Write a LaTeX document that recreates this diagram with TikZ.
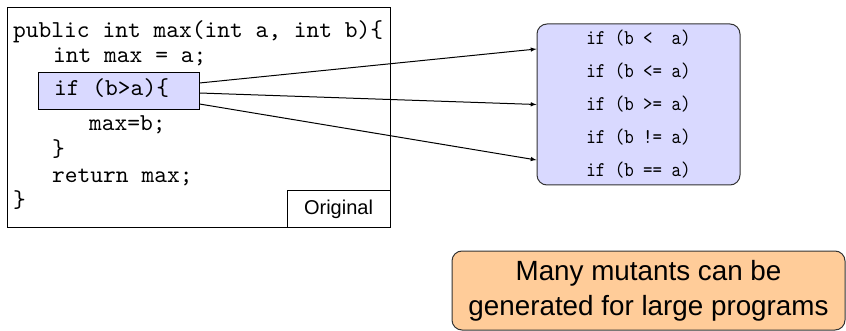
\documentclass[tikz,border=0pt]{standalone}
\usepackage{fontspec}
\setsansfont{Liberation Sans}
\newfontfamily\codefont{lmmono10-regular.otf}
\newfontfamily\mutfont{lmmono10-regular.otf}[FakeStretch=0.86]
\usetikzlibrary{arrows}
\tikzset{
	codeln/.style={
		anchor=base west,
		inner sep=0pt,
		font=\fontsize{24.3}{24.3}\selectfont\codefont
	},
	hil/.style={
		draw,
		fill=blue!15,
		line width=1pt,
		minimum width=161pt,
		minimum height=37pt
	},
	mutbox/.style={
		draw=black!80,
		fill=blue!15,
		rounded corners=10pt,
		line width=1pt,
		minimum width=203pt,
		minimum height=161pt,
		align=center,
		font=\fontsize{21}{33}\selectfont\mutfont
	},
	notebox/.style={
		draw=black!80,
		fill=orange!40,
		rounded corners=10pt,
		line width=1pt,
		minimum width=393pt,
		minimum height=79pt,
		align=center,
		font=\fontsize{27.8}{35}\selectfont\sffamily
	}
}
\begin{document}
\begin{tikzpicture}[x=1pt, y=-1pt]
\useasboundingbox (0,0) rectangle (846,331);

% the original method
\node[draw, line width=1pt, minimum width=383pt, minimum height=220pt] (orig) at (198.5,118) {};
\node[draw, line width=1pt, anchor=south east, minimum width=103pt, minimum height=37pt, font=\fontsize{20}{20}\selectfont\sffamily] (tag) at (orig.south east) {Original};
\node[hil] (cond) at (118.5,91.5) {};

\node[codeln] (l1) at (13,38) {public int max(int a, int b)\{};
\node[codeln] (l2) at (53,63) {int max = a;};
\node[codeln] (l3) at (54,96) {if (b>a)\{};
\node[codeln] (l4) at (89,131) {max=b;};
\node[codeln] (l5) at (52,157) {\}};
\node[codeln] (l6) at (52,183) {return max;};
\node[codeln] (l7) at (13,208) {\}};

% mutated conditions
\node[mutbox] (mut) at (638.5,104.5) {if (b <\ \ a)\\ if (b <= a)\\ if (b >= a)\\ if (b != a)\\ if (b == a)};

\draw[->, >=latex, line width=1pt] ([yshift=8.5pt]cond.east) -- ([yshift=55.5pt]mut.west);
\draw[->, >=latex, line width=1pt] ([yshift=-1.5pt]cond.east) -- (mut.west);
\draw[->, >=latex, line width=1pt] ([yshift=-12.5pt]cond.east) -- ([yshift=-55.5pt]mut.west);

\node[notebox] (note) at (648.5,290.5) {Many mutants can be\\ generated for large programs};
\end{tikzpicture}
\end{document}
